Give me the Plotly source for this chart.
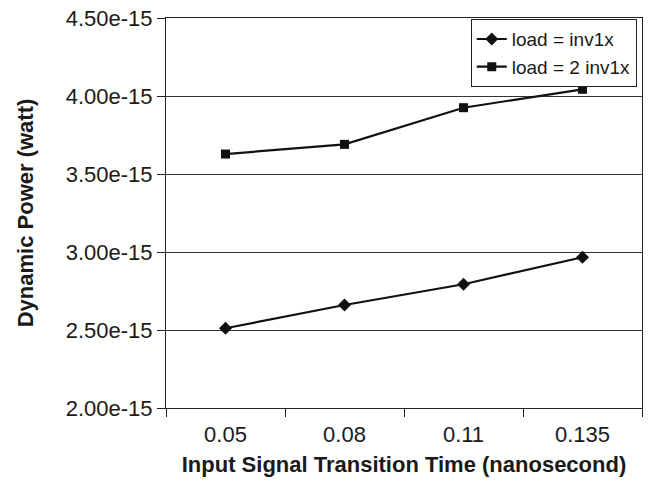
import plotly.graph_objects as go

categories = ["0.05", "0.08", "0.11", "0.135"]
load_inv1x = [2.511e-15, 2.66e-15, 2.793e-15, 2.966e-15]
load_2inv1x = [3.628e-15, 3.69e-15, 3.925e-15, 4.043e-15]
y_ticks = [2.0e-15, 2.5e-15, 3.0e-15, 3.5e-15, 4.0e-15, 4.5e-15]
y_tick_labels = ["2.00e-15", "2.50e-15", "3.00e-15", "3.50e-15", "4.00e-15", "4.50e-15"]

FONT = "Liberation Sans, Arial, sans-serif"
TXT = "#1a1a1a"

fig = go.Figure()
fig.add_trace(go.Scatter(
    x=categories, y=load_inv1x, name="load = inv1x", mode="lines+markers",
    line=dict(color="#111111", width=2.2),
    marker=dict(symbol="diamond", size=10, color="#111111"),
))
fig.add_trace(go.Scatter(
    x=categories, y=load_2inv1x, name="load = 2 inv1x", mode="lines+markers",
    line=dict(color="#111111", width=2.2),
    marker=dict(symbol="square", size=9, color="#111111"),
))

fig.update_layout(
    width=655, height=483,
    margin=dict(l=166, r=13, t=18, b=75),
    paper_bgcolor="white", plot_bgcolor="white",
    font=dict(family=FONT, size=22, color=TXT),
    showlegend=True,
    legend=dict(
        x=0.989, y=0.997, xanchor="right", yanchor="top",
        bgcolor="white", bordercolor="#222222", borderwidth=1,
        font=dict(family=FONT, size=19, color=TXT),
        tracegroupgap=0, itemwidth=30,
    ),
    xaxis=dict(
        type="category", range=[-0.5, 3.5], automargin=False,
        showline=True, linecolor="#222222", linewidth=1.2, mirror=True,
        ticks="outside", ticklen=8, tickcolor="#222222", tickson="boundaries",
        showgrid=False,
        tickfont=dict(family=FONT, size=22, color=TXT),
        ticklabelstandoff=6,
        title=dict(text="<b>Input Signal Transition Time (nanosecond)</b>",
                   font=dict(family=FONT, size=22, color=TXT), standoff=11),
    ),
    yaxis=dict(
        range=[2.0e-15, 4.5e-15], automargin=False,
        tickvals=y_ticks, ticktext=y_tick_labels,
        showline=True, linecolor="#222222", linewidth=1.2, mirror=True,
        ticks="outside", ticklen=8, tickcolor="#222222",
        showgrid=True, gridcolor="#333333", gridwidth=1,
        zeroline=False, ticklabeloverflow="allow",
        tickfont=dict(family=FONT, size=22, color=TXT),
        title=dict(text="<b>Dynamic Power (watt)</b>",
                   font=dict(family=FONT, size=22, color=TXT), standoff=25),
    ),
)

fig.write_html("out.html", config={"displayModeBar": False},
               post_script="document.body.style.margin='0';")
